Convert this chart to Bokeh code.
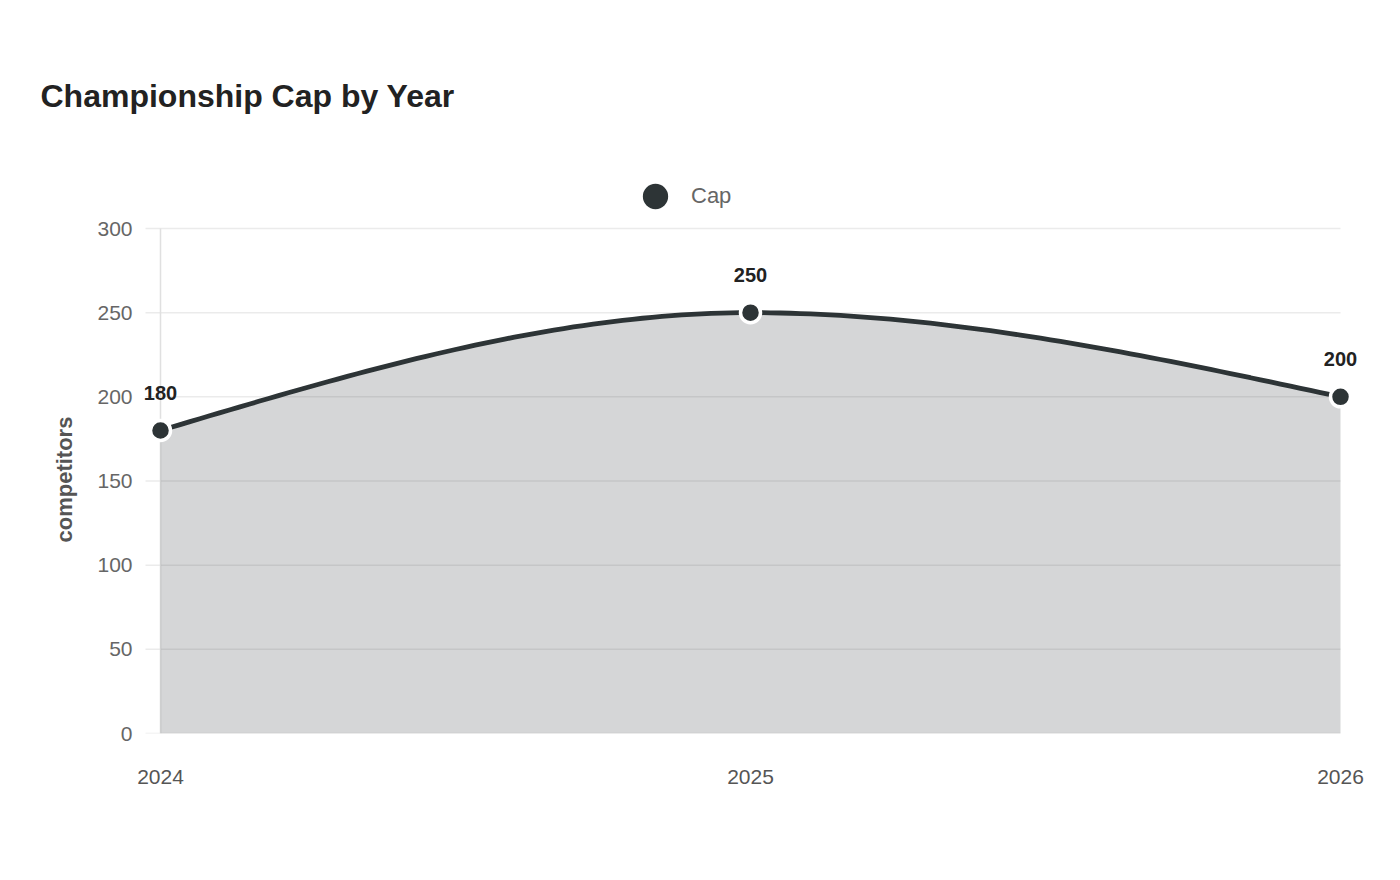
import numpy as np
from bokeh.plotting import figure
from bokeh.models import (ColumnDataSource, Range1d, FixedTicker, LabelSet,
                          Legend, LegendItem, Title)
from bokeh.core.properties import value
from bokeh.embed import file_html
from bokeh.resources import INLINE

# --- data ---
years = [2024, 2025, 2026]
caps = [180, 250, 200]
year_labels = ["2024", "2025", "2026"]
y_ticks = [0, 50, 100, 150, 200, 250, 300]

TITLE = "Championship Cap by Year"
SERIES = "Cap"
Y_LABEL = "competitors"

FONT = "Liberation Sans"
DARK = "#2d3436"
GRID = "#ebebeb"

# frame geometry (pixels)
PX_PER_YEAR = 590.0
PX_PER_UNIT = 505.0 / 300.0
PAD_LEFT_PX = 20      # room so edge markers / labels are not clipped
PAD_RIGHT_PX = 22
PAD_TOP_PX = 88       # headroom above the top tick for the legend
STUB_PX = 15          # grid lines run a little past the y axis


def monotone_curve(xs, ys, steps=60):
    """Monotone cubic interpolation (same slopes as d3.curveMonotoneX)."""
    xs = np.asarray(xs, float)
    ys = np.asarray(ys, float)
    n = len(xs)
    h = np.diff(xs)
    s = np.diff(ys) / h
    m = np.zeros(n)
    for i in range(1, n - 1):
        p = (s[i - 1] * h[i] + s[i] * h[i - 1]) / (h[i - 1] + h[i])
        m[i] = (np.sign(s[i - 1]) + np.sign(s[i])) * min(abs(s[i - 1]), abs(s[i]), 0.5 * abs(p))
    m[0] = (3 * s[0] - m[1]) / 2
    m[-1] = (3 * s[-1] - m[-2]) / 2
    out_x, out_y = [], []
    for i in range(n - 1):
        t = np.linspace(0, 1, steps, endpoint=(i == n - 2))
        h00 = 2 * t**3 - 3 * t**2 + 1
        h10 = t**3 - 2 * t**2 + t
        h01 = -2 * t**3 + 3 * t**2
        h11 = t**3 - t**2
        out_x.extend(xs[i] + t * h[i])
        out_y.extend(h00 * ys[i] + h10 * h[i] * m[i] + h01 * ys[i + 1] + h11 * h[i] * m[i + 1])
    return np.array(out_x), np.array(out_y)


cx, cy = monotone_curve(years, caps)
curve = ColumnDataSource(dict(x=cx, y=cy, base=np.zeros_like(cy)))
pts = ColumnDataSource(dict(x=years, y=caps, txt=[str(v) for v in caps]))

x0 = years[0] - PAD_LEFT_PX / PX_PER_YEAR
x1 = years[-1] + PAD_RIGHT_PX / PX_PER_YEAR
y_top = y_ticks[-1] + PAD_TOP_PX / PX_PER_UNIT
grid_start = years[0] - STUB_PX / PX_PER_YEAR
grid = ColumnDataSource(dict(x0=[grid_start] * len(y_ticks), x1=[years[-1]] * len(y_ticks),
                             y=y_ticks))

p = figure(width=1400, height=880, output_backend="svg", toolbar_location=None,
           x_range=Range1d(x0, x1), y_range=Range1d(y_ticks[0], y_top),
           min_border_left=140, min_border_right=38, min_border_top=140, min_border_bottom=147,
           title=TITLE)
p.outline_line_color = None
p.background_fill_color = "white"
p.border_fill_color = "white"

p.title.text_font = FONT
p.title.text_font_size = "32px"
p.title.text_font_style = "bold"
p.title.text_color = "#222222"
p.title.align = "left"
p.title.offset = -100
p.title.standoff = 53

# horizontal grid + y axis line
p.segment(x0="x0", x1="x1", y0="y", y1="y", source=grid, line_color=GRID, line_width=1.5,
          level="underlay")
p.segment(x0=[years[0]], x1=[years[0]], y0=[y_ticks[0]], y1=[y_ticks[-1]],
          line_color="#e0e0e0", line_width=1.5, level="underlay")

# area + line + points
p.varea(x="x", y1="base", y2="y", source=curve, fill_color=DARK, fill_alpha=0.2)
p.line(x="x", y="y", source=curve, line_color=DARK, line_width=4.8)
r_pts = p.scatter(x="x", y="y", source=pts, size=20, fill_color=DARK,
                  line_color="white", line_width=3.5)

# value labels above points
p.add_layout(LabelSet(x="x", y="y", text="txt", source=pts, y_offset=38,
                      text_align="center", text_baseline="middle",
                      text_font=value(FONT), text_font_size="20px", text_font_style="bold",
                      text_color="#222222"))

# axes
p.xaxis.ticker = FixedTicker(ticks=years)
p.xaxis.major_label_overrides = {y: l for y, l in zip(years, year_labels)}
p.xaxis.axis_line_color = None
p.xaxis.major_tick_line_color = None
p.xaxis.minor_tick_line_color = None
p.xaxis.major_label_standoff = 30
p.xaxis.major_label_text_font = FONT
p.xaxis.major_label_text_font_size = "21px"
p.xaxis.major_label_text_color = "#555555"

p.yaxis.ticker = FixedTicker(ticks=y_ticks)
p.yaxis.axis_line_color = None
p.yaxis.major_tick_line_color = None
p.yaxis.minor_tick_line_color = None
p.yaxis.major_label_standoff = 2
p.yaxis.major_label_text_font = FONT
p.yaxis.major_label_text_font_size = "21px"
p.yaxis.major_label_text_color = "#666666"

# y axis title, centred on the 0-300 span rather than on the whole frame
p.add_layout(Title(text=Y_LABEL, align="left", offset=191, standoff=36,
                   text_font=FONT, text_font_size="22px", text_font_style="bold",
                   text_color="#555555"), "left")

p.xgrid.grid_line_color = None
p.ygrid.grid_line_color = None

# legend in the headroom above the top grid line
legend = Legend(items=[LegendItem(label=SERIES, renderers=[r_pts])],
                location=(479, 501), glyph_width=72, glyph_height=72,
                label_standoff=0, padding=0, margin=0, border_line_color=None,
                background_fill_alpha=0, label_text_font=FONT,
                label_text_font_size="22px", label_text_color="#666666")
p.add_layout(legend, "center")

open("out.html", "w").write(file_html(p, INLINE))
